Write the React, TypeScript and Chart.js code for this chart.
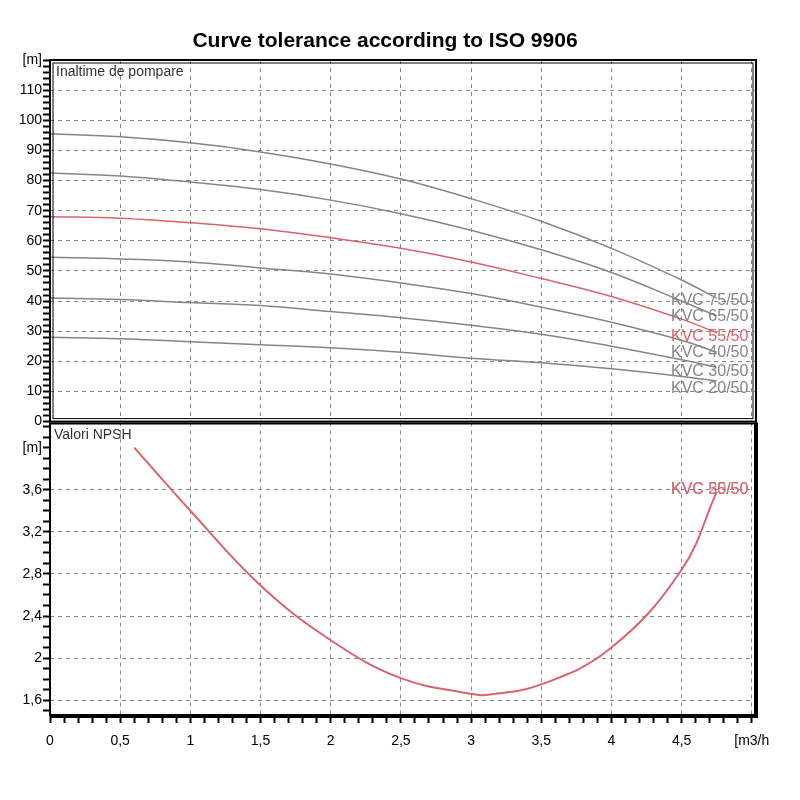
import React, { useEffect, useRef } from "react";
import { Chart, registerables } from "chart.js";
Chart.register(...registerables);

const flowX = [0, 0.5, 1, 1.5, 2, 2.5, 3, 3.5, 4, 4.5, 4.75];
const kvc75 = [95.5, 94.5, 92.5, 89.5, 85.5, 80.5, 74, 66.5, 57.5, 47, 41];
const kvc65 = [82.5, 81.5, 79.5, 77, 73.5, 69, 63.5, 57, 49.5, 40, 35];
const kvc55 = [68, 67.5, 66, 64, 61, 57.5, 53, 47.5, 41.5, 34, 29.5];
const kvc40 = [54.5, 54, 53, 51, 49, 46, 42.5, 38, 33, 27, 23];
const kvc30 = [41, 40.5, 39.5, 38.5, 36.5, 34.5, 32, 29, 25, 20.5, 18];
const kvc20 = [28, 27.5, 26.5, 25.5, 24.5, 23, 21, 19.5, 17.5, 15, 13.5];
const headNames = ["KVC 75/50", "KVC 65/50", "KVC 55/50", "KVC 40/50", "KVC 30/50", "KVC 20/50"];
const headLabelY = [40, 34.7, 28.3, 23, 16.7, 11];
const npshX = [0.6, 1, 1.5, 2, 2.5, 3, 3.1, 3.5, 4, 4.5, 4.75];
const npshY = [4.0, 3.4, 2.69, 2.17, 1.81, 1.66, 1.65, 1.75, 2.1, 2.84, 3.58];

const GRAY = "#858585";
const RED = "#d8646c";
const FONT = "'Liberation Sans', Arial, sans-serif";

const range = (a: number, b: number, s: number) => {
  const r: number[] = [];
  for (let i = 0; Math.round((a + i * s) * 1000) / 1000 <= b + 1e-9; i++) r.push(Math.round((a + i * s) * 1000) / 1000);
  return r;
};
const isMult = (v: number, m: number) => Math.abs(v / m - Math.round(v / m)) < 1e-6;

const xTicks = range(0, 5, 0.1);
const xScale = (showLabels: boolean) => ({
  type: "linear" as const,
  min: 0,
  max: 5.03,
  afterBuildTicks: (s: any) => { s.ticks = xTicks.map((v) => ({ value: v })); },
  afterFit: (s: any) => { s.height = showLabels ? 44 : 0; },
  border: { display: false, dash: [4, 4] },
  grid: {
    display: true,
    drawTicks: showLabels,
    tickLength: 7,
    tickColor: "#000",
    tickWidth: 2,
    color: (c: any) => (isMult(c.tick.value, 0.5) && c.tick.value > 0 ? "#888" : "rgba(0,0,0,0)"),
    tickBorderDash: [],
  },
  ticks: {
    display: showLabels,
    autoSkip: false,
    maxRotation: 0,
    padding: 10,
    color: "#000",
    font: { family: FONT, size: 14 },
    callback: (v: any) => (isMult(v, 0.5) ? (v === 5 ? "[m3/h" : String(v).replace(".", ",")) : ""),
  },
});

export default function App() {
  const topRef = useRef<HTMLCanvasElement>(null);
  const botRef = useRef<HTMLCanvasElement>(null);
  useEffect(() => {
    const mk = (data: number[], color: string) => ({
      data: flowX.map((x, i) => ({ x, y: data[i] })),
      borderColor: color,
      borderWidth: 1.5,
      pointRadius: 0,
      tension: 0.4,
      fill: false,
    });
    const yTop = range(0, 120, 2);
    const top = new Chart(topRef.current!, {
      type: "line",
      data: {
        datasets: [mk(kvc75, GRAY), mk(kvc65, GRAY), mk(kvc55, RED), mk(kvc40, GRAY), mk(kvc30, GRAY), mk(kvc20, GRAY)],
      },
      options: {
        animation: false,
        responsive: false,
        layout: { padding: { top: 52, right: 36, bottom: 2, left: 0 } },
        plugins: { legend: { display: false }, tooltip: { enabled: false }, title: { display: false } },
        scales: {
          x: xScale(false) as any,
          y: {
            type: "linear",
            min: 0,
            max: 120,
            afterBuildTicks: (s: any) => { s.ticks = yTop.map((v) => ({ value: v })); },
            afterFit: (s: any) => { s.width = 42; },
            border: { display: false, dash: [4, 4] },
            grid: {
              tickLength: 7,
              tickColor: "#000",
              tickWidth: 2,
              tickBorderDash: [],
              color: (c: any) => (isMult(c.tick.value, 10) && c.tick.value > 0 && c.tick.value < 120 ? "#888" : "rgba(0,0,0,0)"),
            },
            ticks: {
              autoSkip: false,
              color: "#000",
              font: { family: FONT, size: 14 },
              padding: 1,
              callback: (v: any) => (isMult(v, 10) ? (v === 120 ? "[m]" : String(v)) : ""),
            },
          },
        },
      },
      plugins: [
        {
          id: "topdeco",
          beforeDatasetsDraw(chart: any) {
            const ctx = chart.ctx;
            ctx.save();
            ctx.fillStyle = "#000";
            ctx.font = `bold 21px ${FONT}`;
            ctx.textAlign = "center";
            ctx.textBaseline = "middle";
            ctx.fillText("Curve tolerance according to ISO 9906", 377, 33);
            ctx.restore();
          },
          afterDraw(chart: any) {
            const a = chart.chartArea;
            const ctx = chart.ctx;
            const y = chart.scales.y;
            ctx.save();
            ctx.strokeStyle = "#000";
            ctx.lineWidth = 2;
            ctx.strokeRect(a.left, a.top, a.right - a.left, a.bottom - a.top);
            ctx.lineWidth = 1;
            ctx.strokeRect(a.left + 3, a.top + 3, a.right - a.left - 6, a.bottom - a.top - 6);
            ctx.font = `14px ${FONT}`;
            ctx.fillStyle = "#333";
            ctx.textBaseline = "middle";
            ctx.fillText("Inaltime de pompare", a.left + 6, a.top + 12);
            ctx.font = `16px ${FONT}`;
            headNames.forEach((n, i) => {
              ctx.fillStyle = i === 2 ? RED : GRAY;
              ctx.fillText(n, a.left + 621, y.getPixelForValue(headLabelY[i]));
            });
            ctx.restore();
          },
        },
      ],
    });
    const yBot = range(1.5, 4.2, 0.1);
    const bot = new Chart(botRef.current!, {
      type: "line",
      data: {
        datasets: [
          {
            data: npshX.map((x, i) => ({ x, y: npshY[i] })),
            borderColor: RED,
            borderWidth: 2,
            pointRadius: 0,
            tension: 0.4,
            fill: false,
          },
        ],
      },
      options: {
        animation: false,
        responsive: false,
        layout: { padding: { top: 0, right: 36, bottom: 0, left: 0 } },
        plugins: { legend: { display: false }, tooltip: { enabled: false } },
        scales: {
          x: xScale(true) as any,
          y: {
            type: "linear",
            min: 1.45,
            max: 4.24,
            afterBuildTicks: (s: any) => { s.ticks = yBot.map((v) => ({ value: v })); },
            afterFit: (s: any) => { s.width = 42; },
            border: { display: false, dash: [4, 4] },
            grid: {
              tickLength: 7,
              tickColor: "#000",
              tickWidth: 2,
              tickBorderDash: [],
              color: (c: any) => {
                const v = c.tick.value;
                return isMult(v - 1.6, 0.4) && v >= 1.6 && v < 3.9 ? "#888" : "rgba(0,0,0,0)";
              },
            },
            ticks: {
              autoSkip: false,
              color: "#000",
              font: { family: FONT, size: 14 },
              padding: 1,
              callback: (v: any) => {
                if (Math.abs(v - 4) < 1e-6) return "[m]";
                return isMult(v - 1.6, 0.4) && v >= 1.6 ? (Math.abs(v - 2) < 1e-6 ? "2" : v.toFixed(1).replace(".", ",")) : "";
              },
            },
          },
        },
      },
      plugins: [
        {
          id: "botdeco",
          afterDraw(chart: any) {
            const a = chart.chartArea;
            const ctx = chart.ctx;
            const y = chart.scales.y;
            ctx.save();
            ctx.strokeStyle = "#000";
            ctx.lineWidth = 2;
            ctx.beginPath();
            ctx.moveTo(a.left, a.top + 1);
            ctx.lineTo(a.right, a.top + 1);
            ctx.moveTo(a.left, a.top);
            ctx.lineTo(a.left, a.bottom);
            ctx.stroke();
            ctx.lineWidth = 4;
            ctx.beginPath();
            ctx.moveTo(a.right, a.top);
            ctx.lineTo(a.right, a.bottom);
            ctx.lineTo(a.left, a.bottom);
            ctx.stroke();
            ctx.font = `14px ${FONT}`;
            ctx.fillStyle = "#333";
            ctx.textBaseline = "middle";
            ctx.fillText("Valori NPSH", a.left + 4, a.top + 13);
            ctx.font = `16px ${FONT}`;
            ctx.fillStyle = "rgba(200,130,130,0.9)";
            ctx.fillText("KVC 20/50", a.left + 621, y.getPixelForValue(3.6));
            ctx.fillStyle = RED;
            ctx.fillText("KVC 55/50", a.left + 621, y.getPixelForValue(3.6));
            ctx.restore();
          },
        },
      ],
    });
    return () => { top.destroy(); bot.destroy(); };
  }, []);
  return (
    <div style={{ width: 784 }}>
      <canvas ref={topRef} width={784} height={423} style={{ display: "block" }} />
      <canvas ref={botRef} width={784} height={347} style={{ display: "block", marginTop: -18 }} />
    </div>
  );
}
